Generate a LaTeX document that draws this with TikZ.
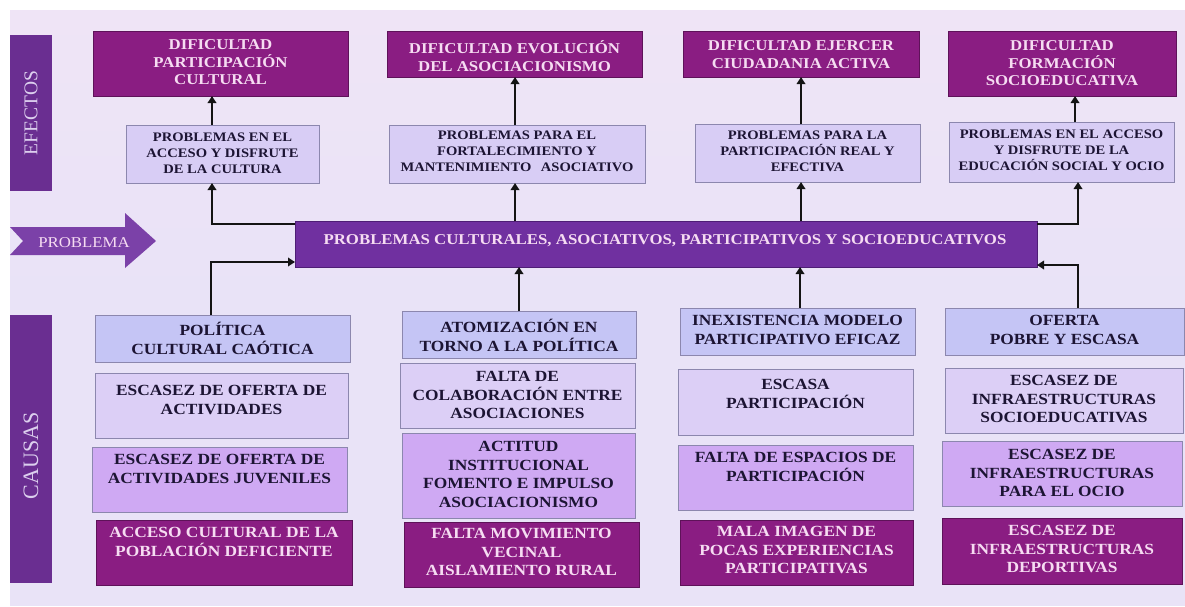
\documentclass[tikz,border=0pt]{standalone}
\usepackage{fontspec}
\setmainfont{Liberation Serif}
\newfontfamily\boxfont[FakeStretch=1.12]{Liberation Serif}
\usetikzlibrary{arrows.meta,fit}
\definecolor{bg}{HTML}{E9E3F7}
\definecolor{bgtop}{HTML}{EFE4F6}
\definecolor{dkc}{HTML}{8A1D82}
\definecolor{dkb}{HTML}{5E1259}
\definecolor{dkt}{HTML}{F6DCF2}
\definecolor{lvc}{HTML}{D8CDF5}
\definecolor{lvb}{HTML}{8C87AE}
\definecolor{rowa}{HTML}{C5C5F5}
\definecolor{rowb}{HTML}{DCCFF6}
\definecolor{rowc}{HTML}{CFA9F3}
\definecolor{cenc}{HTML}{7030A0}
\definecolor{cenb}{HTML}{4E1E75}
\definecolor{sidec}{HTML}{6A2E91}
\definecolor{sidet}{HTML}{DCCFEE}
\definecolor{txt}{HTML}{1C1433}
\newcommand\cell[6]{%
  \node[#2, fit={#3 #4}] (#1) {};
  \node[#2txt, anchor=north] (#1t) at ([yshift=-#5pt]#1.north) {#6};}
\begin{document}
\begin{tikzpicture}[x=1pt,y=-1pt,
  box/.style={inner sep=0pt, outer sep=0pt, line width=0.7pt},
  tp/.style={box, fill=dkc, draw=dkb},
  tptxt/.style={font=\boxfont\bfseries\fontsize{15}{17.5}\selectfont, text=dkt, align=center, inner sep=0pt, execute at begin node=\strut},
  lv/.style={box, fill=lvc, draw=lvb},
  lvtxt/.style={font=\boxfont\bfseries\fontsize{13}{16}\selectfont, text=txt, align=center, inner sep=0pt, execute at begin node=\strut},
  ca/.style={box, fill=rowa, draw=lvb},
  cb/.style={box, fill=rowb, draw=lvb},
  cc/.style={box, fill=rowc, draw=lvb},
  cd/.style={box, fill=dkc, draw=dkb},
  catxt/.style={font=\boxfont\bfseries\fontsize{15.5}{18.5}\selectfont, text=txt, align=center, inner sep=0pt, execute at begin node=\strut},
  cbtxt/.style={catxt}, cctxt/.style={catxt},
  cdtxt/.style={catxt, text=dkt},
  side/.style={box, fill=sidec},
  sidetxt/.style={text=sidet, inner sep=0pt, rotate=90},
  arr/.style={draw=black!92, line width=2.6pt, -{Triangle[width=8.5pt,length=7pt]}},
]
\useasboundingbox (0,0) rectangle (1185,606);
\fill[white] (0,0) rectangle (1185,606);
\shade[top color=bgtop, bottom color=bg] (10,10) rectangle (1185,300);
\fill[bg] (10,299.5) rectangle (1185,606);

% side bars
\node[side, fit={(10,35) (52,191)}] (efx) {};
\node[sidetxt, font=\fontsize{19.5}{22}\selectfont] (efxt) at (efx.center) {EFECTOS};
\node[side, fit={(10,315) (52,583)}] (cau) {};
\node[sidetxt, font=\fontsize{22}{24}\selectfont] (caut) at ([yshift=-7pt]cau.center) {CAUSAS};

% problema arrow
\fill[cenc!92!white] (10,227) -- (125,227) -- (125,213) -- (156,241) -- (125,268) -- (125,255) -- (10,255) -- (23,241) -- cycle;
\node[font=\boxfont\fontsize{15}{18}\selectfont, text=dkt, inner sep=0pt, anchor=base] (prob) at (84,247) {PROBLEMA};

% central
\node[box, fill=cenc, draw=cenb, fit={(295,221) (1037,267)}] (cen) {};
\node[font=\boxfont\bfseries\fontsize{15}{18}\selectfont, text=dkt, inner sep=0pt, anchor=base] (cent) at ([xshift=-1pt,yshift=-23pt]cen.north) {PROBLEMAS CULTURALES, ASOCIATIVOS, PARTICIPATIVOS Y SOCIOEDUCATIVOS};

% effects
\cell{t1}{tp}{(93,31)}{(348,96)}{8.7}{DIFICULTAD\\PARTICIPACIÓN\\CULTURAL}
\cell{t2}{tp}{(387,31)}{(642,77)}{9.7}{DIFICULTAD EVOLUCIÓN\\DEL ASOCIACIONISMO}
\cell{t3}{tp}{(683,31)}{(919,77)}{9.7}{DIFICULTAD EJERCER\\CIUDADANIA ACTIVA}
\cell{t4}{tp}{(948,31)}{(1176,96)}{9.7}{DIFICULTAD\\FORMACIÓN\\SOCIOEDUCATIVA}

\cell{l2a}{lv}{(126,125)}{(319,183)}{7.4}{PROBLEMAS EN EL\\ACCESO Y DISFRUTE\\DE LA CULTURA}
\cell{l2b}{lv}{(389,125)}{(645,183)}{5.4}{PROBLEMAS PARA EL\\FORTALECIMIENTO Y\\MANTENIMIENTO\hspace{6pt} ASOCIATIVO}
\cell{l2c}{lv}{(695,124)}{(920,182)}{6.4}{PROBLEMAS PARA LA\\PARTICIPACIÓN REAL Y\\EFECTIVA}
\cell{l2d}{lv}{(949,122)}{(1174,182)}{7.4}{PROBLEMAS EN EL ACCESO\\Y DISFRUTE DE LA\\EDUCACIÓN SOCIAL Y OCIO}

% causes
\cell{c1a}{ca}{(95,315)}{(350,362)}{7.3}{POLÍTICA\\CULTURAL CAÓTICA}
\cell{c1b}{cb}{(95,373)}{(348,438)}{12.3}{ESCASEZ DE OFERTA DE\\ACTIVIDADES}
\cell{c1c}{cc}{(92,447)}{(347,512)}{7.3}{ESCASEZ DE OFERTA DE\\ACTIVIDADES JUVENILES}
\cell{c1d}{cd}{(96,520)}{(352,585)}{7.3}{ACCESO CULTURAL DE LA\\POBLACIÓN DEFICIENTE}

\cell{c2a}{ca}{(402,311)}{(636,358)}{8.3}{ATOMIZACIÓN EN\\TORNO A LA POLÍTICA}
\cell{c2b}{cb}{(400,363)}{(635,428)}{8.3}{FALTA DE\\COLABORACIÓN ENTRE\\ASOCIACIONES}
\cell{c2c}{cc}{(402,433)}{(635,518)}{8.3}{ACTITUD\\INSTITUCIONAL\\FOMENTO E IMPULSO\\ASOCIACIONISMO}
\cell{c2d}{cd}{(404,522)}{(639,587)}{6.3}{FALTA MOVIMIENTO\\VECINAL\\AISLAMIENTO RURAL}

\cell{c3a}{ca}{(680,308)}{(915,355)}{7.3}{INEXISTENCIA MODELO\\PARTICIPATIVO EFICAZ}
\cell{c3b}{cb}{(678,369)}{(913,435)}{10.3}{ESCASA\\PARTICIPACIÓN}
\cell{c3c}{cc}{(678,445)}{(913,510)}{7.3}{FALTA DE ESPACIOS DE\\PARTICIPACIÓN}
\cell{c3d}{cd}{(680,520)}{(913,585)}{6.3}{MALA IMAGEN DE\\POCAS EXPERIENCIAS\\PARTICIPATIVAS}

\cell{c4a}{ca}{(945,308)}{(1184,355)}{7.3}{OFERTA\\POBRE Y ESCASA}
\cell{c4b}{cb}{(945,368)}{(1183,433)}{7.3}{ESCASEZ DE\\INFRAESTRUCTURAS\\SOCIOEDUCATIVAS}
\cell{c4c}{cc}{(942,441)}{(1182,506)}{8.3}{ESCASEZ DE\\INFRAESTRUCTURAS\\PARA EL OCIO}
\cell{c4d}{cd}{(942,518)}{(1182,584)}{7.3}{ESCASEZ DE\\INFRAESTRUCTURAS\\DEPORTIVAS}

% connectors: level 2 -> effects
\draw[arr] ([xshift=-10.5pt]l2a.north) -- ([xshift=-10.5pt]l2a.north |- t1.south);
\draw[arr] ([xshift=-2pt]l2b.north) -- ([xshift=-2pt]l2b.north |- t2.south);
\draw[arr] ([xshift=-6.5pt]l2c.north) -- ([xshift=-6.5pt]l2c.north |- t3.south);
\draw[arr] ([xshift=13.5pt]l2d.north) -- ([xshift=13.5pt]l2d.north |- t4.south);
% central -> level 2
\draw[arr] ([yshift=-3pt]cen.north west) -| ([xshift=-10.5pt]l2a.south);
\draw[arr] ([xshift=-2pt]l2b.south |- cen.north) -- ([xshift=-2pt]l2b.south);
\draw[arr] ([xshift=-6.5pt]l2c.south |- cen.north) -- ([xshift=-6.5pt]l2c.south);
\draw[arr] ([yshift=-3pt]cen.north east) -| ([xshift=16.5pt]l2d.south);
% causes -> central
\draw[arr] ([xshift=-11.5pt]c1a.north) |- ([yshift=5pt]cen.south west);
\draw[arr] (c2a.north) -- (c2a.north |- cen.south);
\draw[arr] ([xshift=2.5pt]c3a.north) -- ([xshift=2.5pt]c3a.north |- cen.south);
\draw[arr] ([xshift=13.5pt]c4a.north) |- ([yshift=2pt]cen.south east);
\end{tikzpicture}
\end{document}
